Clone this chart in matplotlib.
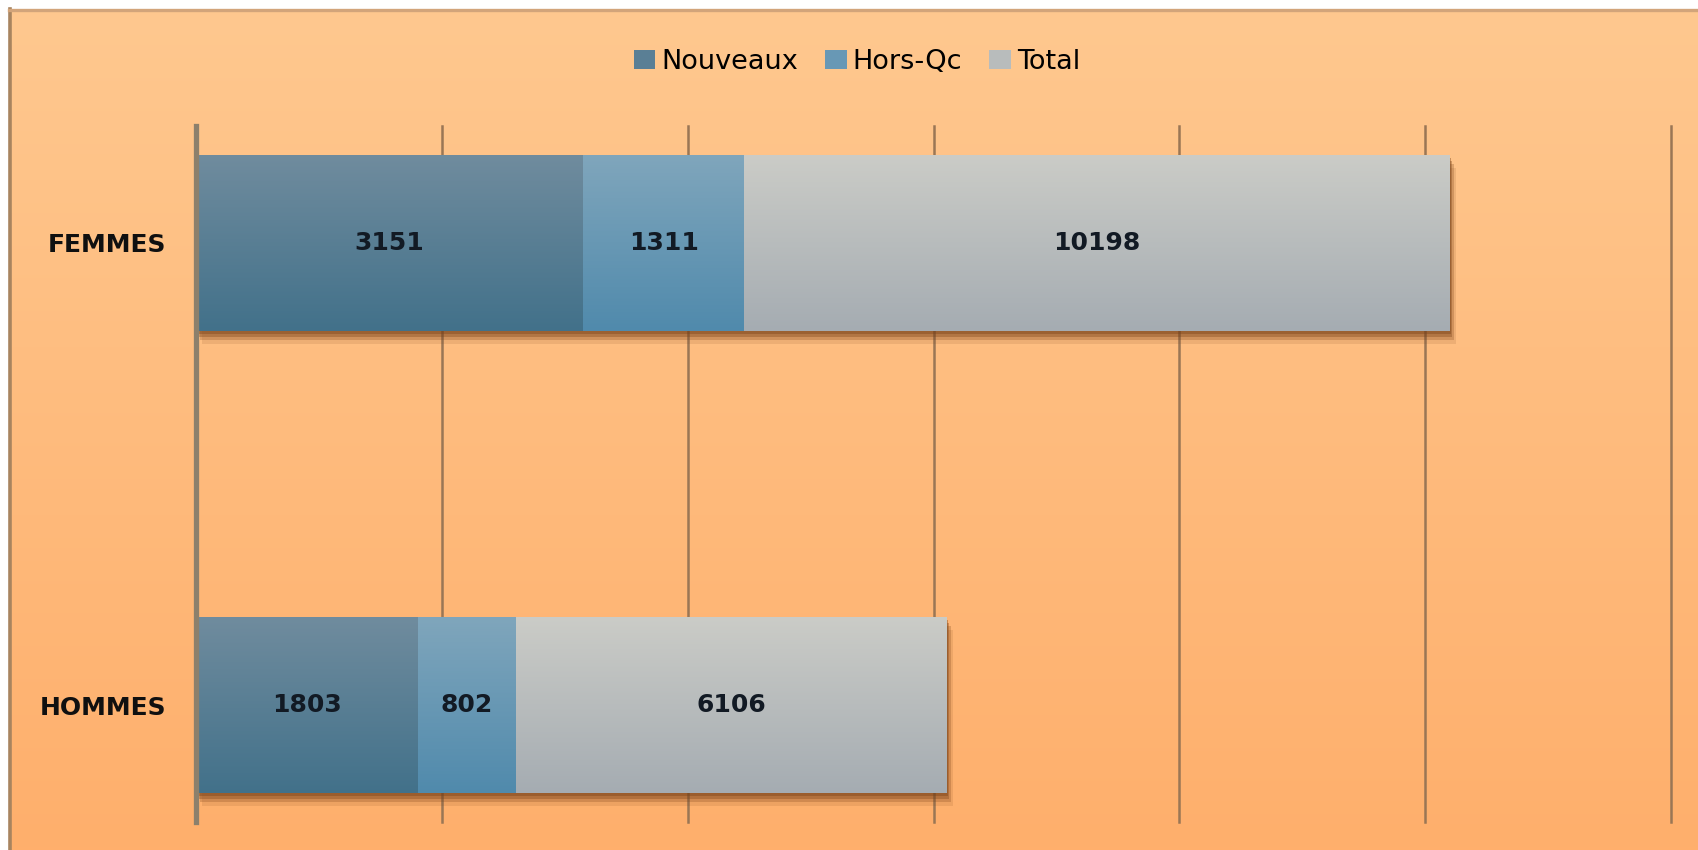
import numpy as np
import matplotlib
matplotlib.use("Agg")
import matplotlib.pyplot as plt
from matplotlib.patches import Rectangle
from matplotlib.lines import Line2D
from matplotlib.colors import LinearSegmentedColormap

# ---- data ----
categories = ["HOMMES", "FEMMES"]
series_names = ["Nouveaux", "Hors-Qc", "Total"]
nouveaux = [1803, 3151]
hors_qc = [802, 1311]
total = [6106, 10198]
x_ticks = [0, 2000, 4000, 6000, 8000, 10000, 12000]

plt.rcParams["font.family"] = ["DejaVu Sans"]
FS = 19.5
FSB = 18

W, H = 1698, 850
fig = plt.figure(figsize=(W / 100, H / 100), dpi=100, facecolor="white")

# ---- background gradient ----
grad = np.linspace(0, 1, 256).reshape(-1, 1)
bg = fig.add_axes([9 / W, 0, 1 - 9 / W, 1 - 9 / H], zorder=-5)
bg_cmap = LinearSegmentedColormap.from_list("bg", ["#FEC88F", "#FFAF6C"])
bg.imshow(grad, aspect="auto", cmap=bg_cmap, extent=[0, 1, 0, 1])
bg.set_axis_off()
fig.add_artist(Line2D([10 / W, 10 / W], [0, 1 - 9 / H], color="#A8845F",
                      lw=2.6, transform=fig.transFigure))
fig.add_artist(Line2D([9 / W, 1], [1 - 10 / H, 1 - 10 / H], color="#D2A47A",
                      lw=2.4, transform=fig.transFigure))

# ---- main axes ----
ax = fig.add_axes([196 / W, 1 - 822 / H, (1671 - 196) / W, (822 - 126) / H])
ax.patch.set_visible(False)

y = np.arange(len(categories))
nv = np.array(nouveaux)
hq = np.array(hors_qc)
tt = np.array(total)
rest = tt - nv - hq
bh = 0.381

cols = [("#708C9E", "#42718A"), ("#80A6BC", "#508AAC"), ("#CBCCC7", "#A5ACB2")]
mid = ["#5A7F95", "#6898B5", "#B8BCBC"]

b1 = ax.barh(y, nv, height=bh, color=mid[0], zorder=3, label=series_names[0])
b2 = ax.barh(y, hq, left=nv, height=bh, color=mid[1], zorder=3, label=series_names[1])
b3 = ax.barh(y, rest, left=nv + hq, height=bh, color=mid[2], zorder=3, label=series_names[2])

# shadows
px_x = 12000 / 1475.0
px_y = 1 / 462.0
for yi, t in zip(y, tt):
    for dx, dy, a in [(6, 13, 0.12), (4, 9, 0.25), (2, 6, 0.35), (1, 3, 0.4)]:
        ax.add_patch(Rectangle((dx * px_x, yi - bh / 2 - dy * px_y), t, bh,
                               facecolor="#7A4218", edgecolor="none",
                               alpha=a, zorder=2))


def grad_fill(bars, top, bottom):
    cmap = LinearSegmentedColormap.from_list("g", [top, bottom])
    for p in bars:
        x0, y0 = p.get_x(), p.get_y()
        w, h = p.get_width(), p.get_height()
        im = ax.imshow(grad, aspect="auto", cmap=cmap, interpolation="bilinear",
                       extent=[x0, x0 + w, y0, y0 + h], zorder=4)
        im.set_clip_path(p)


for bars, (c_top, c_bot) in zip([b1, b2, b3], cols):
    grad_fill(bars, c_top, c_bot)

# labels
for bars, vals in zip([b1, b2, b3], [nv, hq, tt]):
    lab = ax.bar_label(bars, labels=[str(v) for v in vals], label_type="center",
                       fontsize=FSB, fontweight="bold", color="#121A24")
    for t in lab:
        t.set_zorder(6)

# axes styling
ax.set_xticks(x_ticks)
ax.xaxis.grid(True, color="#9A7655", lw=1.8)
ax.set_axisbelow(True)
ax.tick_params(axis="x", length=0, labelbottom=False)
for gl in ax.get_xgridlines():
    gl.set_clip_on(False)
ax.set_yticks(y, categories)
ax.tick_params(axis="y", length=0, pad=21.5, labelsize=FSB, labelcolor="#101010")
for t in ax.get_yticklabels():
    t.set_fontweight("bold")
for s in ["top", "right", "bottom"]:
    ax.spines[s].set_visible(False)
ax.spines["left"].set_linewidth(3.8)
ax.spines["left"].set_color("#8C806C")
ax.spines["left"].set_zorder(5)

ax.set_xlim(0, 12000)
ax.set_ylim(-0.253, 1.253)

fig.legend(handles=[b1, b2, b3], labels=series_names, loc="center",
           bbox_to_anchor=(857 / W, 1 - 62 / H), ncol=3, frameon=False,
           handlelength=0.8, handleheight=0.75, handletextpad=0.22,
           columnspacing=1.0, fontsize=FS, borderaxespad=0)

fig.savefig("out.png", dpi=100, facecolor="white")
